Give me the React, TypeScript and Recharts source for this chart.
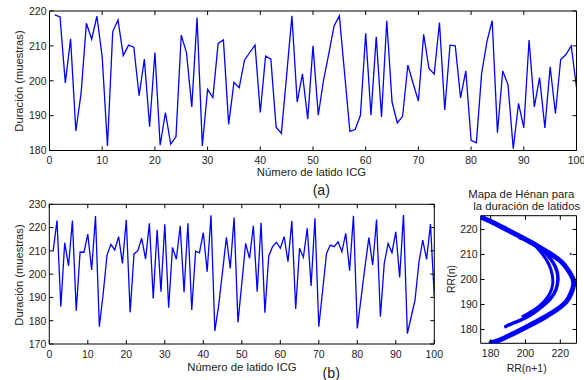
import React from "react";
import { LineChart, Line, XAxis, YAxis, ScatterChart, Scatter } from "recharts";

// (a) duración de cada latido, latidos 1..100
const beatsA = [
  218.9, 218.3, 199.4, 212, 185.6, 196.5, 216.5, 211.9, 218.5, 206.8,
  181.3, 214.1, 217.4, 207.2, 210.2, 209.6, 195.7, 206.2, 186.8, 208.1,
  181.5, 190.9, 181.8, 183.9, 213.1, 208, 192.5, 218.1, 181.3, 197.5,
  195.2, 210.7, 211.7, 187.5, 199.5, 198, 205.9, 208.1, 210.2, 190.9,
  207.1, 206.2, 186.7, 184.9, 201.6, 218.6, 193.9, 202, 189, 210,
  190.1, 200.2, 207.8, 215.7, 218.6, 202, 185.5, 186, 190.1, 213.6,
  190.1, 212.6, 189.6, 217.2, 193.9, 187.9, 189.8, 204.5, 199.2, 194.2,
  213.3, 203.5, 201.9, 216.7, 191.6, 210.2, 210, 195.1, 202.8, 182.9,
  182.2, 202.1, 211.2, 217.2, 185.1, 202.8, 198.9, 180.5, 193.5, 186.5,
  211.7, 192.5, 200.9, 186.5, 204, 190.6, 206.1, 207.5, 210, 198.1,
];

// (b)
const beatsB = [
  209.9, 223, 186, 213.5, 203.6, 223, 184.3, 209.5, 209.4, 217.2,
  201.8, 225, 177.4, 191.7, 208.2, 212.8, 210.4, 216.1, 204.6, 223.3,
  183.6, 208.7, 210.1, 215.4, 206.5, 221.8, 189.6, 219, 192.5, 221.4,
  185.6, 211.5, 206.4, 220.8, 192.2, 221.8, 184.6, 209.9, 209.2, 217.8,
  201.1, 225.3, 175.6, 186.7, 201.1, 215.8, 202.5, 224.3, 179.3, 196,
  213.2, 206.8, 220.8, 192.5, 222.1, 183.4, 207.8, 211.8, 213.7, 211.1,
  216.1, 205.4, 222.8, 185, 211.1, 207.2, 219.7, 194.9, 224, 177.4,
  193, 208.9, 212.5, 211.8, 213.9, 209.6, 217.5, 201.5, 225.1, 176.7,
  190, 203.2, 215.7, 203.9, 223.5, 181.7, 204.6, 213.2, 209.2, 218.2,
  198.6, 225.4, 174.5, 181.7, 188.9, 205, 214.6, 206.3, 221.5, 190.3,
];

// mapa de Hénon: bandas (RR(n+1), RR(n))
const outerX = [174.3, 181.5, 189.1, 196.7, 205.3, 213.9, 220.6, 224.6, 227.2, 227.6, 226.3, 223.4, 218.1, 211.0, 202.5, 192.9, 184.4, 180.3];
const outerY = [224.9, 222.7, 220.0, 217.3, 214.0, 210.4, 207.1, 203.6, 200.4, 197.7, 194.7, 191.1, 188.0, 184.9, 181.7, 178.3, 175.6, 174.8];
const innerAX = [196.7, 203.4, 210.5, 215.4, 218.1, 218.6, 217.5, 214.3, 208.6, 200.6, 192.0, 188.7];
const innerAY = [216.7, 215.1, 211.3, 207.3, 203.3, 199.6, 196.0, 192.3, 188.7, 184.9, 182.3, 181.2];
const innerBX = [203.4, 209.1, 213.5, 215.4, 215.6, 213.9, 210.5, 205.3, 198.6];
const innerBY = [215.1, 210.7, 206.0, 201.7, 198.0, 194.3, 191.1, 188.0, 185.3];
const strayX = [226];
const strayY = [210.2];

const xTicks = [0, 10, 20, 30, 40, 50, 60, 70, 80, 90, 100];
const yTicksA = [180, 190, 200, 210, 220];
const yTicksB = [170, 180, 190, 200, 210, 220, 230];
const hxTicks = [180, 200, 220];
const hyTicks = [180, 190, 200, 210, 220];

const FONT = '"Liberation Sans", Arial, Helvetica, sans-serif';
const BLUE = "#0000ff";
const TL = 4;

const rowsA = beatsA.map((v, i) => ({ n: i + 1, v }));
const rowsB = beatsB.map((v, i) => ({ n: i + 1, v }));
const pts = (xs: number[], ys: number[]) => xs.map((x, i) => ({ x, y: ys[i] }));

function makeTick(side: string, label: boolean) {
  return (props: any) => {
    const { x, y, payload } = props;
    const t = { fontFamily: FONT, fontSize: 10.5, fill: "#222" };
    if (side === "bottom")
      return (
        <g>
          <line x1={x} y1={y} x2={x} y2={y - TL} stroke="#000" />
          {label && <text x={x} y={y + 13.5} textAnchor="middle" {...t}>{payload.value}</text>}
        </g>
      );
    if (side === "top")
      return <line x1={x} y1={y} x2={x} y2={y + TL} stroke="#000" />;
    if (side === "left")
      return (
        <g>
          <line x1={x} y1={y} x2={x + TL} y2={y} stroke="#000" />
          {label && <text x={x - 3} y={y + 3.8} textAnchor="end" {...t}>{payload.value}</text>}
        </g>
      );
    return <line x1={x} y1={y} x2={x - TL} y2={y} stroke="#000" />;
  };
}

const axisCommon = {
  tickSize: 0,
  tickMargin: 0,
  interval: 0 as const,
  allowDataOverflow: true,
  axisLine: { stroke: "#000", strokeWidth: 1 },
  tickLine: false,
};

function Txt({ x, y, size, rot, children }: any) {
  return (
    <div
      style={{
        position: "absolute",
        left: x,
        top: y,
        transform: `translate(-50%, -50%)${rot ? " rotate(-90deg)" : ""}`,
        whiteSpace: "nowrap",
        fontFamily: FONT,
        fontSize: size,
        color: "#222",
        lineHeight: 1,
      }}
    >
      {children}
    </div>
  );
}

function Axes4({ xd, yd, xt, yt, xk, yk }: any) {
  return [
    <XAxis key="xb" xAxisId="b" dataKey={xk} type="number" domain={xd} ticks={xt} {...axisCommon} height={1} tick={makeTick("bottom", true)} />,
    <XAxis key="xt" xAxisId="t" orientation="top" dataKey={xk} type="number" domain={xd} ticks={xt} {...axisCommon} height={1} tick={makeTick("top", false)} />,
    <YAxis key="yl" yAxisId="l" dataKey={yk} type="number" domain={yd} ticks={yt} {...axisCommon} width={1} tick={makeTick("left", true)} />,
    <YAxis key="yr" yAxisId="r" orientation="right" dataKey={yk} type="number" domain={yd} ticks={yt} {...axisCommon} width={1} tick={makeTick("right", false)} />,
  ];
}

const bandLine = (w: number) => ({ stroke: BLUE, strokeWidth: w, strokeLinecap: "round", strokeLinejoin: "round" });

export default function App() {
  return (
    <div style={{ position: "absolute", left: 0, top: 0, width: 584, height: 380, background: "#fff", overflow: "hidden" }}>
      <div style={{ position: "absolute", left: 0, top: 0 }}>
        <LineChart width={584} height={200} data={rowsA} margin={{ top: 10, right: 6.5, bottom: 48.5, left: 48.5 }}>
          {Axes4({ xd: [0, 100], yd: [180, 220], xt: xTicks, yt: yTicksA, xk: "n", yk: "v" })}
          <Line xAxisId="b" yAxisId="l" dataKey="v" stroke={BLUE} strokeWidth={1.3} dot={false} isAnimationActive={false} />
        </LineChart>
      </div>
      <div style={{ position: "absolute", left: 0, top: 180 }}>
        <LineChart width={460} height={200} data={rowsB} margin={{ top: 23.3, right: 24.7, bottom: 35, left: 48.3 }}>
          {Axes4({ xd: [0, 100], yd: [170, 230], xt: xTicks, yt: yTicksB, xk: "n", yk: "v" })}
          <Line xAxisId="b" yAxisId="l" dataKey="v" stroke={BLUE} strokeWidth={1.3} dot={false} isAnimationActive={false} />
        </LineChart>
      </div>
      <div style={{ position: "absolute", left: 440, top: 180 }}>
        <ScatterChart width={144} height={200} margin={{ top: 34.7, right: 6.5, bottom: 35.7, left: 39.7 }}>
          {Axes4({ xd: [174.3, 229.3], yd: [174.5, 225.5], xt: hxTicks, yt: hyTicks, xk: "x", yk: "y" })}
          <Scatter xAxisId="b" yAxisId="l" data={pts(outerX, outerY)} line={bandLine(5)} lineJointType="natural" shape={() => <g />} isAnimationActive={false} />
          <Scatter xAxisId="b" yAxisId="l" data={pts(innerAX, innerAY)} line={bandLine(3.5)} lineJointType="natural" shape={() => <g />} isAnimationActive={false} />
          <Scatter xAxisId="b" yAxisId="l" data={pts(innerBX, innerBY)} line={bandLine(3)} lineJointType="natural" shape={() => <g />} isAnimationActive={false} />
          <Scatter xAxisId="b" yAxisId="l" data={pts(strayX, strayY)} shape={(p: any) => <circle cx={p.cx} cy={p.cy} r={1} fill={BLUE} />} isAnimationActive={false} />
        </ScatterChart>
      </div>

      <Txt x={20} y={81} size={11.2} rot>Duración (muestras)</Txt>
      <Txt x={311.5} y={173} size={11.3}>Número de latido ICG</Txt>
      <Txt x={321.3} y={190} size={14.2}>(a)</Txt>
      <Txt x={20} y={274.7} size={11.2} rot>Duración (muestras)</Txt>
      <Txt x={242} y={368} size={11.3}>Número de latido ICG</Txt>
      <Txt x={331.2} y={372.5} size={14.2}>(b)</Txt>
      <Txt x={521.3} y={195} size={11.3}>Mapa de Hénan para</Txt>
      <Txt x={526.7} y={206.5} size={11.3}>la duración de latidos</Txt>
      <Txt x={450.5} y={279} size={10.5} rot>RR(n)</Txt>
      <Txt x={526.7} y={368} size={10.5}>RR(n+1)</Txt>
    </div>
  );
}
